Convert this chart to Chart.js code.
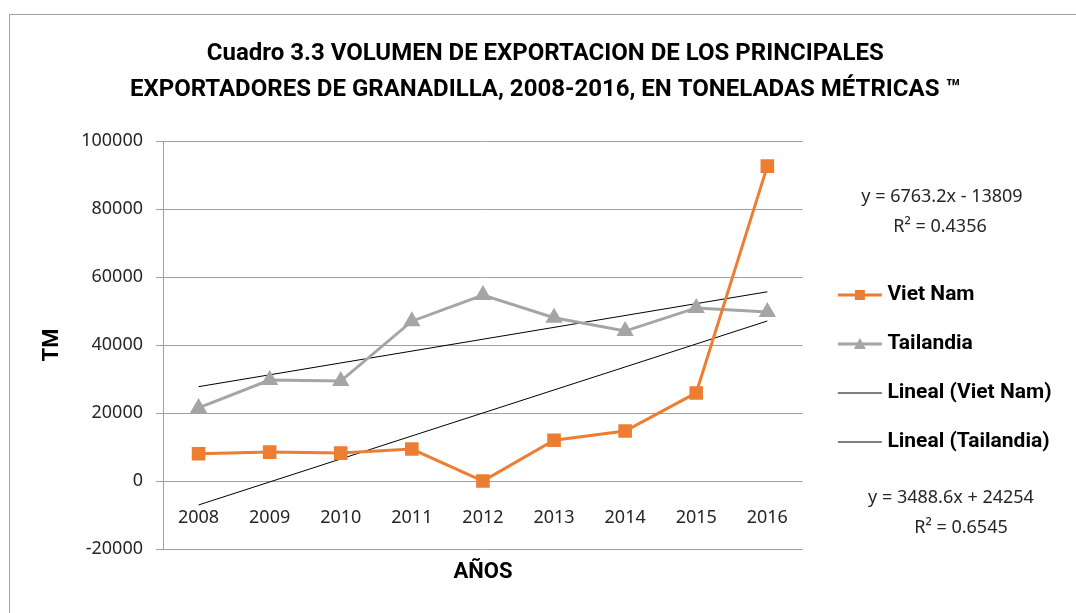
<!DOCTYPE html>
<html>
<head>
<meta charset="utf-8">
<script src="https://cdn.jsdelivr.net/npm/chart.js@4/dist/chart.umd.min.js"></script>
<style>
  body { margin: 0; background: #fff; overflow: hidden; }
  #frame { position: absolute; left: 9px; top: 14px; width: 1200px; height: 800px; border: 1px solid #a0a0a0; }
  #chart { position: absolute; left: 0; top: 0; }
</style>
</head>
<body>
<div id="frame"></div>
<canvas id="chart" width="1076" height="613"></canvas>
<script>
const years = ['2008', '2009', '2010', '2011', '2012', '2013', '2014', '2015', '2016']
const vietNam = [8000, 8500, 8200, 9400, 0, 12000, 14700, 25900, 92600]
const tailandia = [21500, 29700, 29400, 47000, 54700, 48000, 44100, 50900, 49700]
// trend line end points (2008 and 2016)
const vietNamTrend = [-7046, null, null, null, null, null, null, null, 47060]
const tailandiaTrend = [27743, null, null, null, null, null, null, null, 55651]
const yTicks = [-20000, 0, 20000, 40000, 60000, 80000, 100000]
const equations = [
  ['y = 6763.2x - 13809', 'R² = 0.4356'],
  ['y = 3488.6x + 24254', 'R² = 0.6545'],
]

const boldFont = 'Roboto, "Open Sans", sans-serif'
const regular = '"Noto Sans", "Open Sans", sans-serif'
const orange = '#ED7D31'
const grey = '#A5A5A5'

const makeIcon = (color, width, marker) => {
  const c = document.createElement('canvas')
  c.width = 60
  c.height = 24
  const ctx = c.getContext('2d')
  ctx.strokeStyle = color
  ctx.lineWidth = width
  ctx.beginPath()
  ctx.moveTo(14, 12)
  ctx.lineTo(58, 12)
  ctx.stroke()
  ctx.fillStyle = color
  if (marker === 'rect') {
    ctx.fillRect(31, 7, 10, 10)
  } else if (marker === 'triangle') {
    ctx.beginPath()
    ctx.moveTo(36, 6)
    ctx.lineTo(42, 17)
    ctx.lineTo(30, 17)
    ctx.closePath()
    ctx.fill()
  }
  return c
}

const legendIcons = [
  makeIcon(orange, 3, 'rect'),
  makeIcon(grey, 3, 'triangle'),
  makeIcon('#000', 1),
  makeIcon('#000', 1),
]

const equationLabels = {
  id: 'equationLabels',
  afterDraw(chart) {
    const ctx = chart.ctx
    ctx.save()
    ctx.font = `18px ${regular}`
    ctx.fillStyle = '#262626'
    ctx.textAlign = 'center'
    ctx.textBaseline = 'middle'
    ctx.fillText(equations[0][0], 942, 197)
    ctx.fillText(equations[0][1], 940, 227)
    ctx.fillText(equations[1][0], 951, 498)
    ctx.fillText(equations[1][1], 961, 528)
    ctx.restore()
  },
}

new Chart(document.getElementById('chart'), {
  type: 'line',
  data: {
    labels: years,
    datasets: [
      {
        label: 'Viet Nam',
        data: vietNam,
        borderColor: orange,
        backgroundColor: orange,
        borderWidth: 3,
        pointStyle: 'rect',
        pointRadius: 7.5,
      },
      {
        label: 'Tailandia',
        data: tailandia,
        borderColor: grey,
        backgroundColor: grey,
        borderWidth: 3,
        pointStyle: 'triangle',
        pointRadius: 7,
      },
      {
        label: 'Lineal (Viet Nam)',
        data: vietNamTrend,
        borderColor: '#000',
        borderWidth: 1,
        pointRadius: 0,
        spanGaps: true,
      },
      {
        label: 'Lineal (Tailandia)',
        data: tailandiaTrend,
        borderColor: '#000',
        borderWidth: 1,
        pointRadius: 0,
        spanGaps: true,
      },
    ],
  },
  plugins: [equationLabels],
  options: {
    responsive: false,
    animation: false,
    layout: { padding: { left: 30, right: 15.5, top: 0, bottom: 0 } },
    plugins: {
      title: {
        display: true,
        text: [
          'Cuadro 3.3 VOLUMEN DE EXPORTACION DE LOS PRINCIPALES',
          'EXPORTADORES DE GRANADILLA, 2008-2016, EN TONELADAS MÉTRICAS ™',
        ],
        color: '#000',
        font: { family: boldFont, size: 24, weight: 'bold', lineHeight: 1.5 },
        padding: { top: 36, bottom: 33 },
      },
      subtitle: {
        display: true,
        position: 'bottom',
        fullSize: false,
        text: 'AÑOS',
        color: '#000',
        font: { family: boldFont, size: 22, weight: 'bold', lineHeight: 1.2 },
        padding: { top: 10, bottom: 27.6 },
      },
      legend: {
        position: 'right',
        fullSize: false,
        title: { display: true, text: ' ', font: { size: 12 }, padding: { top: 0, bottom: 32.6 } },
        labels: {
          color: '#000',
          font: { family: boldFont, size: 21, weight: 'bold' },
          usePointStyle: true,
          pointStyleWidth: 46,
          padding: 28,
          generateLabels: (chart) =>
            Chart.defaults.plugins.legend.labels
              .generateLabels(chart)
              .map((item, i) => ({ ...item, pointStyle: legendIcons[i] })),
        },
      },
      tooltip: { enabled: false },
    },
    scales: {
      x: {
        type: 'category',
        position: { y: 0 },
        offset: true,
        grid: { display: false },
        border: { display: false },
        ticks: { color: '#262626', font: { family: regular, size: 18 }, padding: 18 },
      },
      y: {
        min: -20000,
        max: 100000,
        afterBuildTicks: (scale) => { scale.ticks = yTicks.map((value) => ({ value })) },
        grid: { color: '#a0a0a0', tickLength: 7 },
        border: { color: '#a0a0a0' },
        ticks: {
          color: '#262626',
          font: { family: regular, size: 18 },
          padding: 13,
          callback: (value) => String(value),
        },
        title: {
          display: true,
          text: 'TM',
          color: '#000',
          font: { family: boldFont, size: 22, weight: 'bold' },
          padding: { top: 9, bottom: 0 },
        },
        afterFit: (scale) => { scale.width = 133 },
      },
    },
  },
})
</script>
</body>
</html>
